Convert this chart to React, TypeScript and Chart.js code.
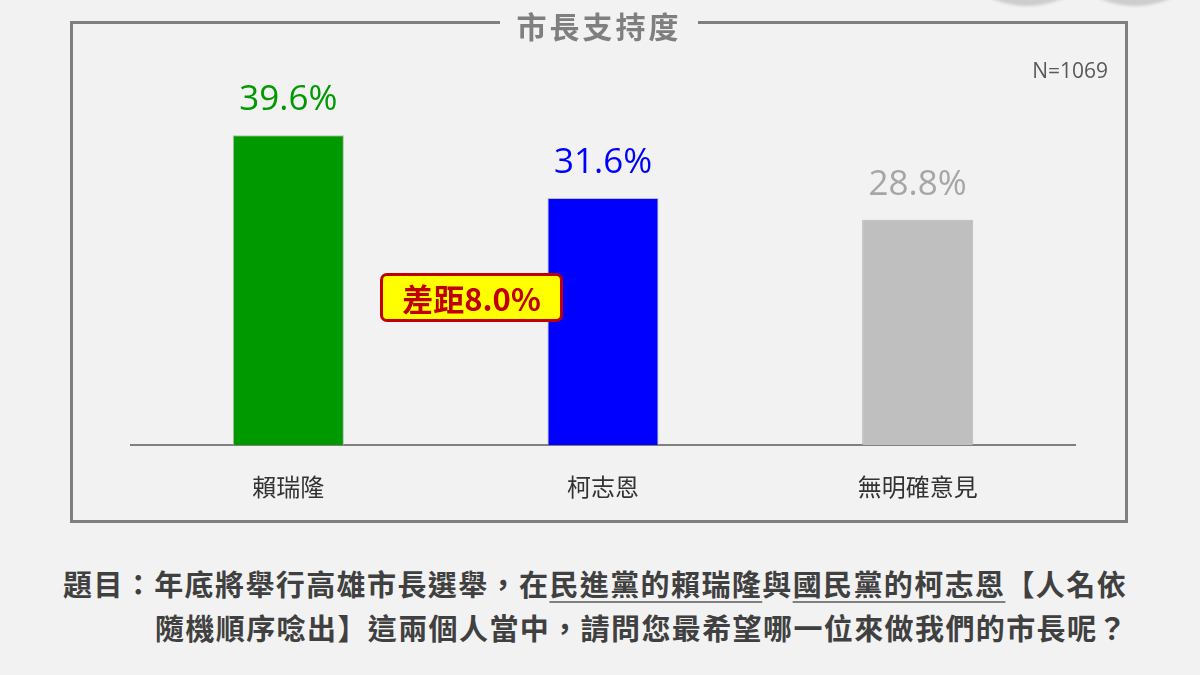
import React, { useEffect, useRef } from "react";
import { Chart, registerables } from "chart.js";

Chart.register(...registerables);

const categories = ["賴瑞隆", "柯志恩", "無明確意見"];
const values = [39.6, 31.6, 28.8];
const barColors = ["#009900", "#0000ff", "#bfbfbf"];
const labelColors = ["#009900", "#0000ff", "#a6a6a6"];
const chartTitle = "市長支持度";
const sampleNote = "N=1069";
const gapNote = "差距8.0%";

const CJK = '"Noto Sans CJK TC", "Noto Sans", sans-serif';
const LATIN = '"Open Sans", "Noto Sans", sans-serif';

const valueLabelPlugin = {
  id: "valueLabels",
  afterDatasetsDraw(chart: any) {
    const ctx = chart.ctx;
    const meta = chart.getDatasetMeta(0);
    meta.data.forEach((bar: any, i: number) => {
      ctx.save();
      ctx.font = `35px ${LATIN}`;
      ctx.fillStyle = labelColors[i];
      ctx.textAlign = "center";
      ctx.textBaseline = "middle";
      ctx.fillText(values[i].toFixed(1) + "%", bar.x, bar.y - 35);
      ctx.restore();
    });
  },
};

export default function App() {
  const canvasRef = useRef<HTMLCanvasElement | null>(null);

  useEffect(() => {
    if (!canvasRef.current) return;
    const chart = new Chart(canvasRef.current, {
      type: "bar",
      data: {
        labels: categories,
        datasets: [
          {
            data: values,
            backgroundColor: barColors,
            borderColor: "rgba(180,180,180,0.9)",
            borderWidth: 1,
            barPercentage: 0.353,
            categoryPercentage: 1,
          },
        ],
      },
      options: {
        responsive: false,
        animation: false,
        devicePixelRatio: 1,
        layout: { padding: { left: 131, right: 125, top: 54, bottom: 18 } },
        plugins: {
          legend: { display: false },
          tooltip: { enabled: false },
        },
        scales: {
          x: {
            grid: { display: false, drawTicks: false },
            border: { display: true, color: "#808080", width: 2 },
            ticks: {
              color: "#333333",
              padding: 27,
              font: { family: CJK, size: 24, weight: "normal" as any },
            },
          },
          y: {
            display: false,
            min: 0,
            max: 50,
          },
        },
      },
      plugins: [valueLabelPlugin],
    });
    return () => chart.destroy();
  }, []);

  const circle = (cx: number) => (
    <div
      style={{
        position: "absolute",
        left: cx - 86,
        top: -166,
        width: 172,
        height: 172,
        borderRadius: "50%",
        background: "radial-gradient(circle at 50% 40%, #dedede 55%, #b4b4b4 100%)",
        filter: "blur(1.5px)",
      }}
    />
  );

  const underline: React.CSSProperties = {
    textDecoration: "underline",
    textDecorationColor: "#808080",
    textDecorationThickness: "2px",
    textUnderlineOffset: "5px",
  };

  return (
    <div
      style={{
        position: "fixed",
        left: 0,
        top: 0,
        width: 1200,
        height: 675,
        background: "#f2f2f2",
        overflow: "hidden",
      }}
    >
      {circle(1027)}
      {circle(1135)}
      <div
        style={{
          position: "absolute",
          left: 70,
          top: 21,
          width: 1052,
          height: 496,
          border: "3px solid #7f7f7f",
        }}
      />
      <canvas
        ref={canvasRef}
        width={1200}
        height={546}
        style={{ position: "absolute", left: 0, top: 0, width: 1200, height: 546 }}
      />
      <div
        style={{
          position: "absolute",
          left: 500,
          top: 4,
          width: 198,
          height: 42,
          background: "#f2f2f2",
          textAlign: "center",
          fontFamily: CJK,
          fontWeight: 700,
          fontSize: 30,
          lineHeight: "42px",
          letterSpacing: 3,
          color: "#7f7f7f",
        }}
      >
        {chartTitle}
      </div>
      <div
        style={{
          position: "absolute",
          right: 1200 - 1108,
          top: 56,
          fontFamily: LATIN,
          fontSize: 21,
          lineHeight: "28px",
          color: "#595959",
        }}
      >
        {sampleNote}
      </div>
      <div
        style={{
          position: "absolute",
          left: 380,
          top: 273,
          width: 183,
          height: 49,
          boxSizing: "border-box",
          background: "#ffff00",
          border: "3px solid #c00000",
          borderRadius: 7,
          textAlign: "center",
          fontFamily: CJK,
          fontWeight: 700,
          fontSize: 31,
          lineHeight: "43px",
          color: "#c00000",
        }}
      >
        {gapNote}
      </div>
      <div
        style={{
          position: "absolute",
          left: 63,
          top: 561,
          whiteSpace: "nowrap",
          fontFamily: CJK,
          fontWeight: 700,
          fontSize: 29,
          lineHeight: "44px",
          letterSpacing: 1.4,
          color: "#404040",
        }}
      >
        題目：年底將舉行高雄市長選舉，在<span style={underline}>民進黨的賴瑞隆</span>與
        <span style={underline}>國民黨的柯志恩</span>【人名依
      </div>
      <div
        style={{
          position: "absolute",
          left: 155,
          top: 605,
          whiteSpace: "nowrap",
          fontFamily: CJK,
          fontWeight: 700,
          fontSize: 29,
          lineHeight: "44px",
          letterSpacing: 1.4,
          color: "#404040",
        }}
      >
        隨機順序唸出】這兩個人當中，請問您最希望哪一位來做我們的市長呢？
      </div>
    </div>
  );
}
